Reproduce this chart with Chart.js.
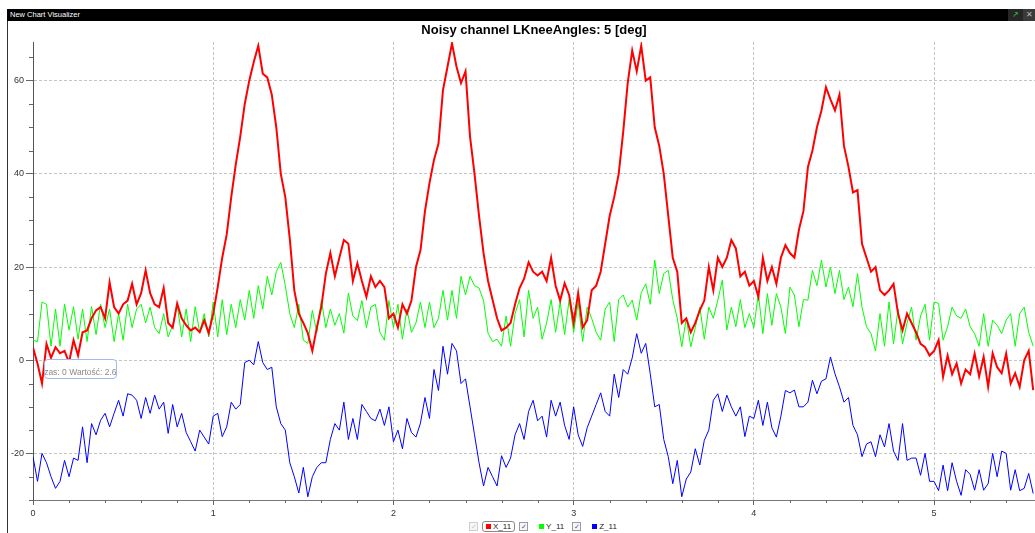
<!DOCTYPE html>
<html>
<head>
<meta charset="utf-8">
<script src="https://cdn.jsdelivr.net/npm/chart.js@4.4.1/dist/chart.umd.min.js"></script>
<style>
  html, body { margin: 0; padding: 0; background: #fff; width: 1035px; height: 533px; overflow: hidden;
    font-family: "Liberation Sans", Arial, sans-serif; }
  #titlebar { position: absolute; left: 7px; top: 9px; width: 1028px; height: 12px; background: #000; }
  #titlebar .t { position: absolute; left: 3px; top: 0; color: #fff; font-size: 7.5px; line-height: 12px; }
  #btnMax { position: absolute; left: 1001px; top: 0; width: 15px; height: 12px; background: #262626;
    color: #3fbf3f; font-size: 8px; line-height: 12px; text-align: center; }
  #btnClose { position: absolute; left: 1016px; top: 0; width: 12px; height: 12px; background: #3a3a3a;
    color: #bbb; font-size: 8px; line-height: 12px; text-align: center; }
  #frame { position: absolute; left: 7px; top: 21px; width: 1px; height: 512px; background: #333; z-index: 3; }
  #wrap { position: absolute; left: 0; top: 21px; width: 1035px; height: 500px; }
  #tip { position: absolute; left: 44px; top: 359px; width: 71px; height: 18px; border: 1px solid #a3b9ee;
    border-radius: 4px; background: #fff; overflow: hidden; z-index: 2; }
  #tip span { position: absolute; left: -7px; top: 7px; font-size: 8.5px; line-height: 10px; color: #8a8a8a; white-space: nowrap; }
  #legend { position: absolute; left: 469px; top: 521px; height: 11px; display: flex; align-items: center;
    font-size: 8px; color: #222; }
  .cb { width: 7px; height: 7px; border: 1px solid #9a9a9a; background: #f6f6f6; color: #4a5a9a;
    font-size: 7px; line-height: 7px; text-align: center; overflow: hidden; }
  .cb.off { border-color: #cfcfcf; color: #c8c8c8; }
  .item { display: flex; align-items: center; height: 9px; padding: 0 3px; border: 1px solid transparent; border-radius: 3px; }
  .item.focus { border-color: #8a8a8a; }
  .item i { display: inline-block; width: 5px; height: 5px; margin-right: 2px; }
</style>
</head>
<body>
<div id="titlebar"><span class="t">New Chart Visualizer</span><div id="btnMax">&#8599;</div><div id="btnClose">&#10005;</div></div>
<div id="frame"></div>
<div id="wrap"><canvas id="chart" width="1035" height="500"></canvas></div>
<div id="tip"><span>Czas: 0 Wartość: 2.6659</span></div>
<div id="legend"></div>
<script>
const TITLE = 'Noisy channel LKneeAngles: 5 [deg]';
const SERIES_NAMES = ['X_11', 'Y_11', 'Z_11'];
const SERIES_COLORS = ['#ff0000', '#00ff00', '#0000ff'];
const SAMPLE_STEP = 0.025; // seconds between samples

const X_MIN = 0, X_MAX = 5.56, X_MINOR = 0.2;
const Y_MIN = -30, Y_MAX = 68.3, Y_MINOR = 5;
const X_TICKS = [0, 1, 2, 3, 4, 5];
const Y_TICKS = [-20, 0, 20, 40, 60];

// values, one every SAMPLE_STEP seconds
const X_11 = [
  2.7, -0.7, -5, 3.5, 0.5, 2.8, 1.5, 2, -0.5, 4.3,
  1, 6, 6.4, 9, 10.7, 11.4, 9, 16.7, 11.4, 10,
  12, 12.8, 16.4, 12, 14.4, 19.3, 14.4, 12, 11.4, 15.5,
  8, 7, 12.2, 9, 7.5, 6.4, 7, 6, 8.6, 5.8,
  10, 15.7, 22, 27, 35, 42, 48, 55, 60, 64,
  67.5, 61.5, 60.7, 57, 50, 40, 35, 26, 15, 10,
  8, 5.8, 2, 7, 11.5, 18.6, 23, 18, 22, 25.8,
  25, 17, 20.8, 17, 13.6, 18, 15.7, 17, 15.7, 9,
  10, 7, 12, 10, 12.8, 20, 23.6, 32, 38, 43,
  46.5, 58, 63, 68, 63, 59.5, 62, 48, 40, 31,
  23, 17, 13, 9, 6.4, 7, 8, 12, 15.5, 17.5,
  21, 19, 18.2, 19, 17, 22, 16, 12.8, 16.5, 14,
  8, 14.4, 7, 8.6, 15, 16, 19, 25, 31, 35,
  40, 49, 59.5, 66.5, 62, 67.5, 60, 60.7, 50, 46,
  40, 31, 22, 19, 8, 9, 6, 8, 10.7, 12.8,
  20, 15, 22, 20, 22, 25.8, 24, 18, 19, 16,
  17, 13.6, 22, 17, 20, 16.4, 22, 24.7, 23, 22,
  28, 32, 41.5, 45, 50, 53.6, 58.6, 56, 53.6, 57,
  46, 41.5, 36, 36.5, 25, 22, 19, 20, 15, 14,
  15, 16.4, 10, 6.4, 10, 8, 6, 3.5, 2.8, 1,
  2, 4.3, -3.6, 1, -3, -0.7, -5, -2, -3, 1.4,
  -3.5, 0.7, -5.7, 1.5, -1.5, -2.8, 1.4, -5, -2.8, -5.7,
  0, 2, -6.4
];
const Y_11 = [
  4.3, 4, 12.5, 12, 3, 11, 3, 12, 6.5, 11.5,
  4.5, 11, 4, 11.5, 5.5, 12, 7, 11, 4, 10,
  4.3, 12, 7, 11, 12, 8, 11.4, 7, 5.7, 10,
  5, 7.5, 12, 5, 11, 4, 11.5, 6, 10, 5,
  12.5, 5, 13, 5.5, 12, 7, 13, 8.6, 15, 9,
  16, 11, 18, 14, 19, 21, 16, 10, 7, 12,
  4.3, 3.6, 10.7, 6, 12.8, 7, 11, 7.5, 10, 5.8,
  14.4, 9.5, 8.5, 12.8, 7, 11.4, 12, 6, 4.3, 12.8,
  7, 12, 4.5, 11, 6, 8, 12.5, 7, 12.5, 7,
  9, 15, 8.6, 15, 9, 18, 14, 18, 16, 15.5,
  12.8, 5.8, 4, 4.5, 3, 9.5, 3, 10, 13, 5,
  15, 9, 11.4, 4.5, 8, 13, 6, 12.5, 5.5, 13,
  6, 12.5, 4, 11.4, 9, 6, 4.3, 11, 12.5, 4,
  13, 14, 11.4, 12.9, 8.6, 14.5, 16.4, 12, 21.5, 14.3,
  18.6, 19.3, 13, 9, 2.9, 9, 2.9, 7, 11.4, 4.5,
  11.4, 9, 12.9, 17.2, 6.5, 11.4, 7.2, 13, 7, 10,
  7, 14.3, 5.7, 14.3, 7.5, 14.3, 11.4, 5.7, 15.7, 14,
  7.2, 13, 12.9, 19.3, 16, 21.5, 15.7, 20, 14.3, 19.3,
  13, 15.7, 11.5, 18.6, 11.4, 7.2, 5.7, 2, 10, 3,
  12.5, 3.5, 11, 3.5, 8, 11.4, 4.3, 9.5, 12, 4.3,
  12.5, 12.2, 4.3, 7.2, 11.4, 9.5, 9, 11, 7.2, 5.7,
  3, 10, 3, 8.6, 7.5, 5.7, 8.6, 10, 3, 10,
  11.4, 6, 3
];
const Z_11 = [
  -20.7, -26, -20, -22, -25, -27.5, -26, -21.5, -25, -21,
  -21.5, -14.3, -22, -13.6, -16, -12.9, -11.4, -14.3, -11.4, -8.6,
  -12, -7.2, -7.5, -8.6, -12.5, -8, -11.4, -7.5, -10.5, -9,
  -15.7, -9.5, -14.3, -11.4, -15.5, -17.5, -19.5, -15, -16.5, -18,
  -12, -11.4, -16.4, -14.3, -9, -10.5, -9.5, -0.5, 0, -1,
  4, -0.5, -2, -1.5, -10, -13.6, -15, -22, -25, -28.5,
  -23, -29.3, -25, -23, -22, -22, -17, -13.6, -15, -9,
  -17, -12.5, -17, -9.5, -11, -12.5, -13, -10.5, -14, -10,
  -17.5, -15, -19, -12.5, -15.5, -16.5, -13.5, -8, -12.5, -2,
  -6.5, 3, -3, 3.6, 2, -5, -4, -10, -16, -22,
  -27, -23, -25, -27, -20.5, -23, -21, -16, -13.6, -17,
  -11, -8.6, -13, -12, -16.5, -8.6, -12, -9, -14, -17,
  -10, -16, -18.5, -14.5, -12, -9.5, -7, -11, -12, -3,
  -8, -2, -3, 0.5, 5.7, 1.5, 3.6, -2.9, -10, -9.5,
  -17, -20.7, -26.5, -21.5, -29.3, -25.5, -24, -19, -22.5, -17.2,
  -15, -8.6, -7.2, -11, -7.5, -10, -12, -10, -16.4, -12,
  -12.5, -8.6, -14, -9, -14.5, -16.5, -12, -6.5, -7, -6.4,
  -10, -10, -9, -4.3, -7.2, -4.5, -4, 0.7, -2.9, -5.7,
  -9, -8, -14, -16, -20.7, -18, -17.5, -20.7, -16, -18.6,
  -13.6, -19.5, -21.5, -13.6, -21.5, -21, -21, -24.7, -20, -26,
  -26, -28, -22.5, -28, -22, -26, -29, -23.5, -24.5, -27.9,
  -23.5, -27.9, -26.5, -20, -25, -19.5, -20, -27.9, -23.5, -28,
  -27.5, -24.3, -28.6
];

const SERIES = [X_11, Y_11, Z_11];
const LINE_WIDTHS = [2, 1, 1];
const TIME = X_11.map((_, i) => +(i * SAMPLE_STEP).toFixed(3));

const tickFont = { family: 'Liberation Sans', size: 9 };

// small unlabelled ticks between the labelled ones
const minorTicks = {
  id: 'minorTicks',
  afterDraw(chart) {
    const { ctx, chartArea: a, scales: { x, y } } = chart;
    ctx.save();
    ctx.strokeStyle = '#666';
    ctx.lineWidth = 1;
    ctx.beginPath();
    for (let v = Y_MIN; v <= Y_MAX; v += Y_MINOR) {
      if (Y_TICKS.includes(v)) continue;
      const py = Math.round(y.getPixelForValue(v)) + 0.5;
      ctx.moveTo(a.left - 4, py);
      ctx.lineTo(a.left, py);
    }
    for (let k = 1; k * X_MINOR <= X_MAX; k++) {
      const v = k * X_MINOR;
      if (Math.abs(v - Math.round(v)) < 1e-6) continue;
      const px = Math.round(x.getPixelForValue(v)) + 0.5;
      ctx.moveTo(px, a.bottom);
      ctx.lineTo(px, a.bottom + 3);
    }
    ctx.stroke();
    ctx.restore();
  }
};

const chart = new Chart(document.getElementById('chart'), {
  type: 'line',
  data: {
    datasets: SERIES.map((vals, s) => ({
      label: SERIES_NAMES[s],
      data: vals.map((v, i) => ({ x: TIME[i], y: v })),
      borderColor: SERIES_COLORS[s],
      borderWidth: LINE_WIDTHS[s],
      pointRadius: 0,
      tension: 0,
      fill: false
    }))
  },
  options: {
    responsive: false,
    animation: false,
    layout: { padding: 0 },
    plugins: {
      legend: { display: false },
      tooltip: { enabled: false },
      title: {
        display: true,
        text: TITLE,
        fullSize: false,
        color: '#000',
        font: { family: 'Liberation Sans', size: 13, weight: 'bold', lineHeight: 1.2 },
        padding: { top: 2, bottom: 3.4 }
      }
    },
    scales: {
      x: {
        type: 'linear',
        min: X_MIN,
        max: X_MAX,
        afterBuildTicks: s => { s.ticks = X_TICKS.map(v => ({ value: v })); },
        afterFit: s => { s.height = 21; },
        grid: { color: '#c4c4c4', tickColor: '#666', tickLength: 5 },
        border: { color: '#777', dash: [3, 2] },
        ticks: { font: tickFont, color: '#333', padding: 3, maxRotation: 0, autoSkip: false }
      },
      y: {
        min: Y_MIN,
        max: Y_MAX,
        afterBuildTicks: s => { s.ticks = Y_TICKS.map(v => ({ value: v })); },
        afterFit: s => { s.width = 33; },
        grid: { color: '#c4c4c4', tickColor: '#666', tickLength: 7 },
        border: { color: '#555', dash: [3, 2] },
        ticks: { font: tickFont, color: '#333', padding: 2, autoSkip: false }
      }
    }
  },
  plugins: [minorTicks]
});

// legend row with the little check boxes
const legend = document.getElementById('legend');
SERIES_NAMES.forEach((name, s) => {
  const cb = document.createElement('span');
  cb.className = 'cb' + (s === 0 ? ' off' : '');
  cb.textContent = '✓';
  cb.style.marginRight = s === 0 ? '4px' : '7px';
  legend.appendChild(cb);
  const item = document.createElement('span');
  item.className = 'item' + (s === 0 ? ' focus' : '');
  item.style.marginRight = '4px';
  item.innerHTML = '<i style="background:' + SERIES_COLORS[s] + '"></i>' + name;
  legend.appendChild(item);
});
</script>
</body>
</html>
